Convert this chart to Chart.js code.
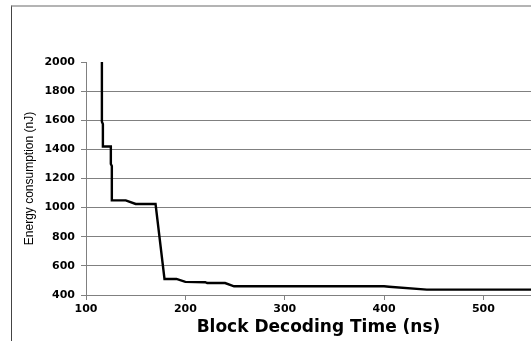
<!DOCTYPE html>
<html>
<head>
<meta charset="utf-8">
<script src="https://cdn.jsdelivr.net/npm/chart.js@4.4.1/dist/chart.umd.min.js"></script>
<style>
  html, body { margin: 0; padding: 0; overflow: hidden; background: #fff; width: 531px; height: 341px; }
  #frame { position: absolute; left: 11px; top: 5px; width: 700px; height: 500px;
           border-left: 1px solid #444; border-top: 2px solid #b4b4b4; }
  #c { position: absolute; left: 0; top: 0; }
</style>
</head>
<body>
<div id="frame"></div>
<canvas id="c" width="551" height="341"></canvas>
<script>
// Block decoding time (ns) vs energy consumption (nJ)
const decodingTime = [116, 116, 117, 117, 125, 125, 126, 126, 140, 150, 170, 179, 191, 200, 220, 222, 240, 249, 400, 405, 443, 568];
const energy       = [2000, 1590, 1575, 1420, 1420, 1300, 1285, 1050, 1050, 1025, 1025, 510, 510, 490, 488, 482, 482, 460, 460, 457, 437, 437];
const xTickValues = [100, 200, 300, 400, 500];
const yTickValues = [400, 600, 800, 1000, 1200, 1400, 1600, 1800, 2000];

const points = decodingTime.map((x, i) => ({ x: x, y: energy[i] }));
const tickFont = { family: "'DejaVu Sans', Verdana, sans-serif", size: 11, weight: 'bold' };

new Chart(document.getElementById('c'), {
  type: 'scatter',
  data: {
    datasets: [{
      data: points,
      showLine: true,
      borderColor: '#000',
      borderWidth: 2.4,
      pointRadius: 0,
      tension: 0,
      fill: false
    }]
  },
  options: {
    responsive: false,
    animation: false,
    layout: { padding: { top: 62, left: 0, right: 0, bottom: 0 } },
    plugins: { legend: { display: false }, tooltip: { enabled: false } },
    scales: {
      x: {
        type: 'linear',
        min: 100,
        max: 568,
        afterBuildTicks: s => { s.ticks = xTickValues.map(v => ({ value: v })); },
        afterFit: s => { s.height = 46; },
        grid: { drawOnChartArea: false, drawTicks: true, tickLength: 5, color: '#808080', tickColor: '#808080' },
        border: { color: '#808080', width: 1 },
        ticks: { color: '#000', font: tickFont, padding: 3, maxRotation: 0, callback: v => String(v) },
        title: {
          display: true,
          text: 'Block Decoding Time (ns)',
          color: '#000',
          font: { family: "'DejaVu Sans', Verdana, sans-serif", size: 17, weight: 'bold' },
          padding: { top: 0, bottom: 3 }
        }
      },
      y: {
        type: 'linear',
        min: 400,
        max: 2000,
        afterBuildTicks: s => { s.ticks = yTickValues.map(v => ({ value: v })); },
        afterFit: s => { s.width = 86; },
        grid: {
          tickLength: 5,
          color: c => (c.tick && c.tick.value === 2000) ? 'rgba(0,0,0,0)' : '#808080',
          tickColor: '#808080'
        },
        border: { color: '#808080', width: 1 },
        ticks: { color: '#000', font: tickFont, padding: 6, callback: v => String(v) },
        title: {
          display: true,
          text: 'Energy consumption (nJ)',
          color: '#000',
          font: { family: "'Liberation Sans', Arial, sans-serif", size: 12 },
          padding: { top: 22, bottom: 0 }
        }
      }
    }
  }
});
</script>
</body>
</html>
